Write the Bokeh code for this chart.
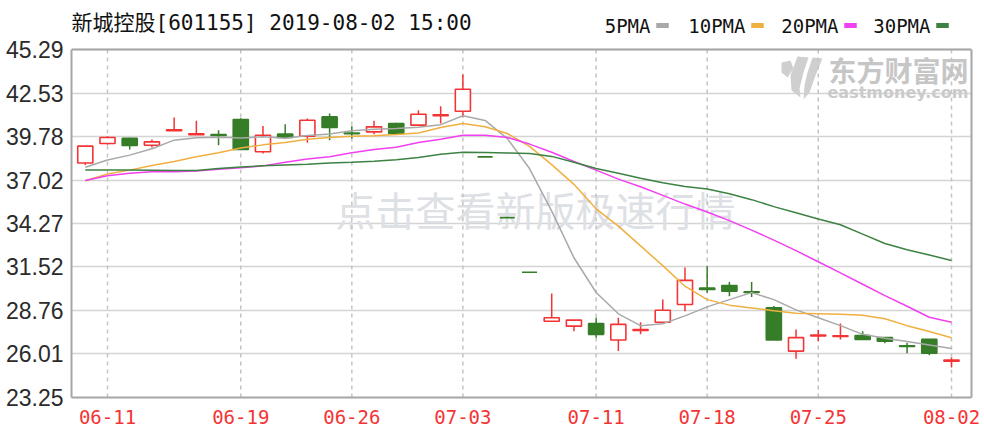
from bokeh.plotting import figure
from bokeh.models import FixedTicker, Range1d, LinearAxis, Span, ColumnDataSource
from bokeh.embed import file_html
from bokeh.resources import INLINE
from bokeh.core.properties import value

# ---------------- data ----------------
title_text = "新城控股[601155] 2019-08-02 15:00"
dates = ["06-10", "06-11", "06-12", "06-13", "06-14", "06-17", "06-18", "06-19", "06-20", "06-21",
         "06-24", "06-25", "06-26", "06-27", "06-28", "07-01", "07-02", "07-03", "07-04", "07-05",
         "07-08", "07-09", "07-10", "07-11", "07-12", "07-15", "07-16", "07-17", "07-18", "07-19",
         "07-22", "07-23", "07-24", "07-25", "07-26", "07-29", "07-30", "07-31", "08-01", "08-02"]
open_ = [38.10, 39.34, 39.66, 39.23, 40.15, 39.90, 39.90, 40.85, 38.81, 39.93,
         39.80, 41.02, 40.00, 40.07, 40.60, 40.50, 41.10, 41.38, 38.49, 34.64,
         31.18, 28.08, 27.77, 27.94, 26.89, 27.50, 28.02, 29.14, 30.18, 30.34,
         29.95, 28.93, 26.19, 27.15, 27.12, 27.18, 27.04, 26.52, 26.93, 25.55]
high = [39.17, 39.80, 39.70, 39.59, 40.98, 40.77, 40.18, 40.94, 40.45, 40.56,
        40.92, 41.23, 40.43, 40.77, 40.65, 41.44, 41.69, 43.71, 38.49, 34.64,
        31.18, 29.83, 28.15, 28.30, 28.30, 28.02, 29.45, 31.49, 31.56, 30.57,
        30.57, 29.04, 27.56, 27.52, 27.94, 27.45, 27.04, 26.72, 26.95, 25.78]
low = [37.97, 39.25, 38.96, 39.09, 40.15, 39.90, 39.23, 38.92, 38.71, 39.70,
       39.38, 39.55, 39.66, 39.93, 39.93, 40.50, 40.60, 41.00, 38.49, 34.64,
       31.18, 28.06, 27.45, 27.04, 26.19, 27.25, 28.02, 28.72, 29.88, 29.66,
       29.62, 26.89, 25.71, 26.82, 26.93, 26.93, 26.68, 26.05, 25.92, 25.15]
close = [39.17, 39.72, 39.21, 39.44, 40.20, 39.95, 39.85, 38.96, 39.86, 39.72,
         40.81, 40.35, 39.95, 40.39, 39.97, 41.19, 41.15, 42.77, 38.49, 34.64,
         31.18, 28.30, 28.15, 27.25, 27.88, 27.55, 28.78, 30.67, 30.10, 29.98,
         29.90, 26.89, 27.04, 27.20, 27.16, 26.93, 26.82, 26.48, 26.05, 25.62]
ma5 = [37.83, 38.29, 38.60, 39.00, 39.55, 39.70, 39.73, 39.68, 39.76, 39.67,
       39.84, 39.94, 40.14, 40.24, 40.29, 40.37, 40.53, 41.09, 40.80, 39.65,
       37.75, 35.05, 32.10, 29.90, 28.55, 27.80, 27.92, 28.42, 28.99, 29.45,
       29.89, 29.45, 28.80, 28.30, 27.80, 27.25, 27.00, 26.80, 26.58, 26.35]
ma10 = [36.98, 37.40, 37.65, 37.95, 38.20, 38.50, 38.75, 39.05, 39.25, 39.40,
        39.60, 39.72, 39.80, 39.83, 39.90, 40.00, 40.35, 40.60, 40.40, 39.97,
        39.15, 38.00, 36.75, 35.20, 34.10, 32.85, 31.60, 30.30, 29.45, 29.10,
        28.92, 28.74, 28.58, 28.56, 28.52, 28.46, 28.24, 27.80, 27.43, 27.03]
ma20 = [37.00, 37.30, 37.45, 37.55, 37.55, 37.60, 37.70, 37.80, 37.92, 38.15,
        38.35, 38.50, 38.75, 38.95, 39.10, 39.40, 39.60, 39.86, 39.86, 39.72,
        39.30, 38.78, 38.20, 37.65, 37.08, 36.60, 36.05, 35.50, 35.00, 34.45,
        33.85, 33.22, 32.55, 31.85, 31.14, 30.42, 29.70, 29.03, 28.33, 28.02]
ma30 = [37.66, 37.66, 37.66, 37.64, 37.62, 37.62, 37.75, 37.85, 37.92, 37.97,
        38.02, 38.10, 38.15, 38.22, 38.30, 38.45, 38.65, 38.78, 38.76, 38.74,
        38.70, 38.52, 38.15, 37.75, 37.45, 37.13, 36.85, 36.62, 36.45, 36.15,
        35.78, 35.34, 34.95, 34.55, 34.19, 33.60, 33.00, 32.61, 32.27, 31.93]
legend_names = ["5PMA", "10PMA", "20PMA", "30PMA"]
y_ticks = [23.25, 26.01, 28.76, 31.52, 34.27, 37.02, 39.78, 42.53, 45.29]
y_tick_labels = ["23.25", "26.01", "28.76", "31.52", "34.27", "37.02", "39.78", "42.53", "45.29"]
x_tick_idx = [1, 7, 12, 17, 23, 28, 33, 39]
watermark = "点击查看新版极速行情"
logo_cn = "东方财富网"
logo_en = "eastmoney.com"

# ---------------- style ----------------
RED = "#f43434"
GREEN = "#367d28"
MA_COLORS = ["#a9a9a9", "#f0b040", "#f040f0", "#3c8242"]
BORDER = "#a6a6a6"
GRID = "#d4d4d4"

n = len(dates)
idx = list(range(n))
up = []
for i in range(n):
    if close[i] != open_[i]:
        up.append(close[i] > open_[i])
    else:
        up.append(i > 0 and close[i] >= close[i - 1])

W, H = 980, 432
FL, FT, FW, FH = 71, 0, 900, 397   # frame in canvas pixels
X0, X1 = -0.621, 39.90
Y0 = 23.25
YTOP = y_ticks[-1]
Y1 = YTOP + (49 - FT) * (YTOP - Y0) / (397 - 49)


def sx(px):
    return X0 + (px - FL) * (X1 - X0) / FW


def sy(py):
    return Y1 - (py - FT) * (Y1 - Y0) / FH


p = figure(width=W, height=H, output_backend="svg", toolbar_location=None,
           x_range=Range1d(X0, X1), y_range=Range1d(Y0, Y1), title=None,
           min_border_left=FL, min_border_right=W - FL - FW, min_border_top=FT,
           min_border_bottom=H - FT - FH)
p.outline_line_color = None
p.background_fill_color = "white"
p.border_fill_color = "white"

# y axis
ya = p.yaxis[0]
ya.ticker = FixedTicker(ticks=y_ticks)
ya.major_label_overrides = {t: l for t, l in zip(y_ticks, y_tick_labels)}
ya.bounds = (Y0, YTOP)
ya.axis_line_color = BORDER
ya.axis_line_width = 2
ya.major_tick_line_color = None
ya.minor_tick_line_color = None
ya.major_tick_out = 0
ya.major_tick_in = 0
ya.minor_tick_out = 0
ya.minor_tick_in = 0
ya.major_label_standoff = 8
ya.major_label_text_font = "Liberation Sans"
ya.major_label_text_font_size = "23px"
ya.major_label_text_color = "#2b2b2b"

# x axis
xa = p.xaxis[0]
xa.ticker = FixedTicker(ticks=x_tick_idx)
xa.major_label_overrides = {i: dates[i] for i in x_tick_idx}
xa.axis_line_color = BORDER
xa.axis_line_width = 2
xa.major_tick_line_color = None
xa.minor_tick_line_color = None
xa.major_tick_out = 0
xa.major_tick_in = 0
xa.minor_tick_out = 0
xa.minor_tick_in = 0
xa.major_label_standoff = 12
xa.major_label_text_font = "DejaVu Sans Mono"
xa.major_label_text_font_size = "19px"
xa.major_label_text_color = RED

ra = LinearAxis(ticker=FixedTicker(ticks=[]), bounds=(Y0, YTOP), axis_line_color=BORDER,
                axis_line_width=2, major_tick_line_color=None, minor_tick_line_color=None,
                major_tick_out=0, minor_tick_out=0,
                major_label_text_font_size="0px", major_label_standoff=0)
p.add_layout(ra, "right")
p.add_layout(Span(location=YTOP, dimension="width", line_color=BORDER, line_width=2))

p.xgrid.visible = False
p.ygrid.ticker = FixedTicker(ticks=y_ticks)
p.ygrid.grid_line_color = GRID
p.ygrid.grid_line_width = 1.5

# watermarks
p.text(x=[sx(535)], y=[sy(208)], text=[watermark], text_align="center", text_baseline="middle",
       text_font=value("Noto Sans CJK SC"), text_font_size="40px", text_color="#dde0e4")
p.text(x=[sx(898)], y=[sy(69)], text=[logo_cn], text_align="center", text_baseline="middle",
       text_font=value("Noto Sans CJK SC"), text_font_size="28px", text_font_style="bold",
       text_color="#c6c6c6")
p.text(x=[sx(827)], y=[sy(92)], text=[logo_en], text_align="left", text_baseline="middle",
       text_font=value("DejaVu Sans"), text_font_size="16px", text_font_style="bold",
       text_color="#cacaca")
icon = [
    [(781, 62), (790, 60), (793, 68), (787, 77), (781, 72)],
    [(797, 56), (808, 57), (803, 72), (799, 88), (800, 97), (791, 90), (790, 75)],
    [(812, 57), (822, 58), (815, 75), (809, 92), (803, 99), (804, 85), (807, 72)],
]
p.patches(xs=[[sx(a) for a, b in s] for s in icon], ys=[[sy(b) for a, b in s] for s in icon],
          fill_color="#cfcfcf", line_color=None)

# vertical dashed grid
p.segment(x0=x_tick_idx, y0=[Y0] * len(x_tick_idx), x1=x_tick_idx, y1=[YTOP] * len(x_tick_idx),
          line_color="#c4c4c4", line_width=1.5, line_dash="4 4")

# candles
for is_up, col, fill in [(True, RED, "white"), (False, GREEN, GREEN)]:
    sel = [i for i in idx if up[i] == is_up]
    src = ColumnDataSource(dict(
        x=sel,
        high=[high[i] for i in sel],
        low=[low[i] for i in sel],
        top=[max(open_[i], close[i]) for i in sel],
        bottom=[min(open_[i], close[i]) for i in sel],
    ))
    p.segment(x0="x", y0="high", x1="x", y1="low", source=src, line_color=col, line_width=1.5)
    p.vbar(x="x", width=0.68, top="top", bottom="bottom", source=src,
           fill_color=fill, line_color=col, line_width=1.6)

# moving averages
for ser, col in zip([ma5, ma10, ma20, ma30], MA_COLORS):
    p.line(idx, ser, line_color=col, line_width=1.5)

# header: title and legend
p.text(x=[X0], y=[sy(22.5)], text=[title_text], text_align="left", text_baseline="middle",
       text_font=value("DejaVu Sans Mono, Noto Sans CJK SC"), text_font_size="21px",
       text_color="#111111")
leg_end = [650, 745, 838, 930]
p.text(x=[sx(v) for v in leg_end], y=[sy(25)] * 4, text=legend_names, text_align="right",
       text_baseline="middle", text_font=value("DejaVu Sans Mono"), text_font_size="19px",
       text_color="#111111")
p.rect(x=[sx(v + 12) for v in leg_end], y=[sy(25)] * 4, width=12.5, height=5,
       width_units="screen", height_units="screen", fill_color=MA_COLORS, line_color=None)

open("out.html", "w").write(file_html(p, INLINE))
